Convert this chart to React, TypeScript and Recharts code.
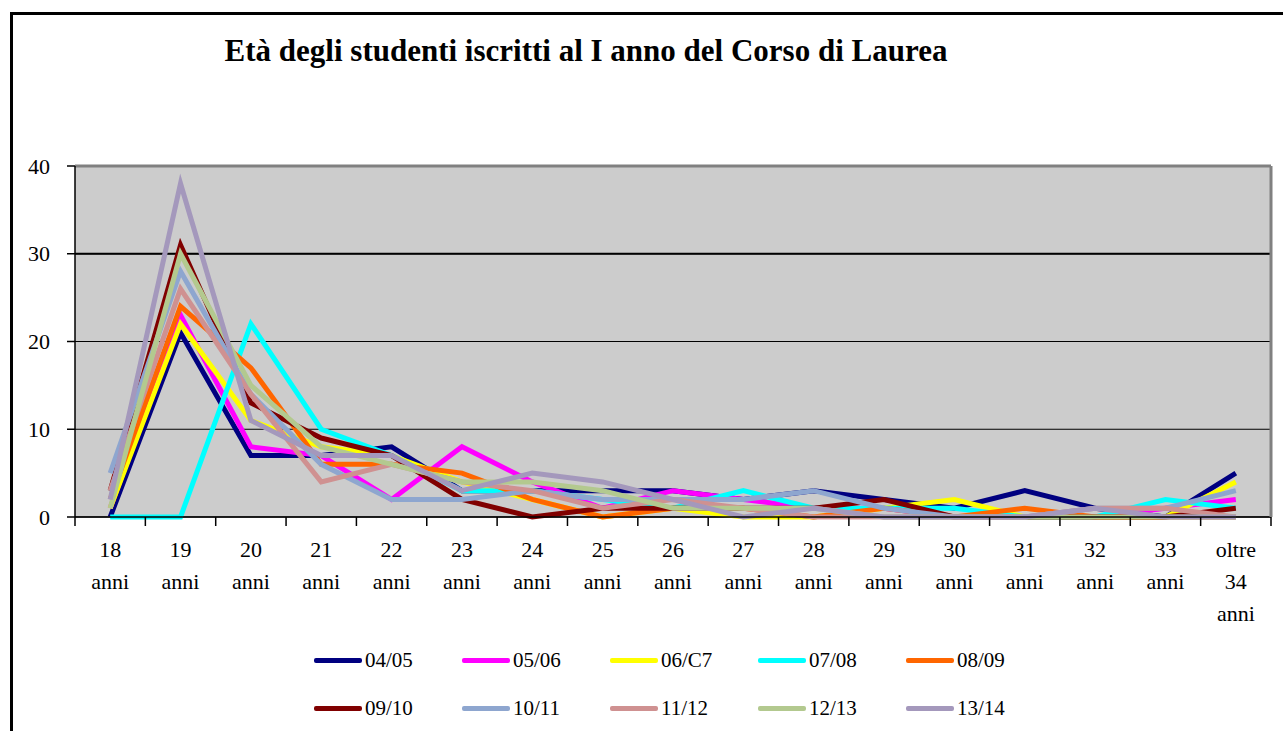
import React from 'react';
import { LineChart, Line, XAxis, YAxis, CartesianGrid, ReferenceLine, Legend } from 'recharts';

const categories = ['18 anni', '19 anni', '20 anni', '21 anni', '22 anni', '23 anni', '24 anni', '25 anni', '26 anni', '27 anni', '28 anni', '29 anni', '30 anni', '31 anni', '32 anni', '33 anni', 'oltre 34 anni'];

const s0405 = [0, 21, 7, 7, 8, 3, 3, 3, 3, 2, 3, 2, 1, 3, 1, 0, 5];
const s0506 = [1, 23, 8, 7, 2, 8, 4, 1, 3, 2, 1, 1, 0, 0, 0, 1, 2];
const s0607 = [1, 22, 11, 8, 7, 4, 2, 0, 1, 0, 0, 1, 2, 0, 0, 0, 4];
const s0708 = [0, 0, 22, 10, 7, 3, 3, 2, 1, 3, 1, 1, 1, 0, 0, 2, 1];
const s0809 = [2, 24, 17, 6, 6, 5, 2, 0, 1, 1, 0, 1, 0, 1, 0, 0, 0];
const s0910 = [3, 31, 13, 9, 7, 2, 0, 1, 1, 1, 1, 2, 0, 0, 0, 0, 1];
const s1011 = [5, 28, 14, 6, 2, 2, 3, 2, 2, 2, 3, 1, 0, 0, 1, 1, 3];
const s1112 = [3, 26, 14, 4, 6, 4, 3, 1, 2, 1, 0, 0, 0, 0, 1, 1, 0];
const s1213 = [1, 30, 15, 8, 6, 4, 4, 3, 1, 1, 1, 0, 0, 0, 0, 0, 0];
const s1314 = [2, 38, 11, 7, 7, 3, 5, 4, 2, 0, 1, 0, 0, 0, 1, 0, 0];

const seriesNames = ['04/05', '05/06', '06/07', '07/08', '08/09', '09/10', '10/11', '11/12', '12/13', '13/14'];
const seriesValues = [s0405, s0506, s0607, s0708, s0809, s0910, s1011, s1112, s1213, s1314];
const seriesColors = ['#000080', '#FF00FF', '#FFFF00', '#00FFFF', '#FF6600', '#800000', '#8EA6CF', '#CF9191', '#B3C98F', '#A498BC'];
const legendLabels = ['04/05', '05/06', '06/C7', '07/08', '08/09', '09/10', '10/11', '11/12', '12/13', '13/14'];

const yTicks = [0, 10, 20, 30, 40];
const title = 'Età degli studenti iscritti al I anno del Corso di Laurea';

const data = categories.map((c, i) => {
  const row: Record<string, string | number> = { cat: c };
  seriesNames.forEach((n, k) => { row[n] = seriesValues[k][i]; });
  return row;
});

const FONT = '"Liberation Serif", "Times New Roman", serif';
const W = 1283;
const H = 731;
const PLOT_LEFT = 75;
const PLOT_RIGHT = 1271;
const HALF = (PLOT_RIGHT - PLOT_LEFT) / categories.length / 2;

const XTick = (props: any) => {
  const { x, y, payload, index } = props;
  const parts = String(payload.value).split(' ');
  const last = index === categories.length - 1;
  return (
    <g>
      <line x1={x - HALF} y1={y} x2={x - HALF} y2={y + 9} stroke="#000" strokeWidth={1.5} />
      {last && <line x1={x + HALF} y1={y} x2={x + HALF} y2={y + 9} stroke="#000" strokeWidth={1.5} />}
      {parts.map((p, i) => (
        <text key={i} x={x} y={y + 40 + i * 32} textAnchor="middle" fontFamily={FONT} fontSize={22} fill="#000">{p}</text>
      ))}
    </g>
  );
};

const YTick = (props: any) => {
  const { x, y, payload } = props;
  return (
    <text x={x} y={y} dy="0.35em" textAnchor="end" fontFamily={FONT} fontSize={22} fill="#000">{payload.value}</text>
  );
};

const LegendContent = () => (
  <div style={{ position: 'relative', width: 760, height: 90 }}>
    {legendLabels.map((l, i) => {
      const col = i % 5;
      const row = Math.floor(i / 5);
      return (
        <div key={l} style={{ position: 'absolute', left: 24 + col * 148, top: 20 + row * 48 - 12, height: 24, display: 'flex', alignItems: 'center' }}>
          <div style={{ width: 48, height: 5, background: seriesColors[i], borderRadius: 2 }} />
          <span style={{ marginLeft: 3, fontFamily: FONT, fontSize: 21, color: '#000', lineHeight: '24px' }}>{l}</span>
        </div>
      );
    })}
  </div>
);

export default function App() {
  return (
    <div style={{ position: 'absolute', left: 0, top: 0, width: W, height: H, background: '#fff', overflow: 'hidden' }}>
      <div style={{ position: 'absolute', left: 10, top: 12, width: W - 10, height: H - 12, borderLeft: '3px solid #000', borderTop: '3px solid #000', boxSizing: 'border-box' }} />
      <div style={{ position: 'absolute', left: 0, width: 1172, top: 32, textAlign: 'center', fontFamily: FONT, fontWeight: 'bold', fontSize: 31, lineHeight: '38px', color: '#000' }}>{title}</div>
      <div style={{ position: 'absolute', left: 0, top: 0 }}>
        <LineChart width={W} height={H} data={data} margin={{ top: 166, right: 0, bottom: 184, left: 0 }}>
          <CartesianGrid vertical={false} stroke="#000" strokeWidth={1} fill="#cccccc" />
          <XAxis dataKey="cat" interval={0} padding={{ left: HALF, right: HALF }} tickLine={false} tickSize={0} tickMargin={0} height={30} axisLine={{ stroke: '#000', strokeWidth: 1.5 }} tick={<XTick />} />
          <YAxis domain={[0, 40]} ticks={yTicks} width={75} tickSize={8} tickMargin={17} axisLine={{ stroke: '#000', strokeWidth: 1.5 }} tickLine={{ stroke: '#000', strokeWidth: 1.5 }} tick={<YTick />} />
          <YAxis yAxisId="right" orientation="right" domain={[0, 40]} width={12} tick={false} tickLine={false} axisLine={{ stroke: '#808080', strokeWidth: 3 }} />
          <ReferenceLine y={30} stroke="#000" strokeWidth={2} />
          <ReferenceLine y={40} stroke="#808080" strokeWidth={3} />
          <Legend layout="horizontal" verticalAlign="middle" align="center" content={<LegendContent />} wrapperStyle={{ position: 'absolute', left: 290, top: 640, width: 760, height: 90 }} />
          {seriesNames.map((n, k) => (
            <Line key={n} type="linear" dataKey={n} name={n} stroke={seriesColors[k]} strokeWidth={5} dot={false} activeDot={false} isAnimationActive={false} />
          ))}
        </LineChart>
      </div>
    </div>
  );
}
